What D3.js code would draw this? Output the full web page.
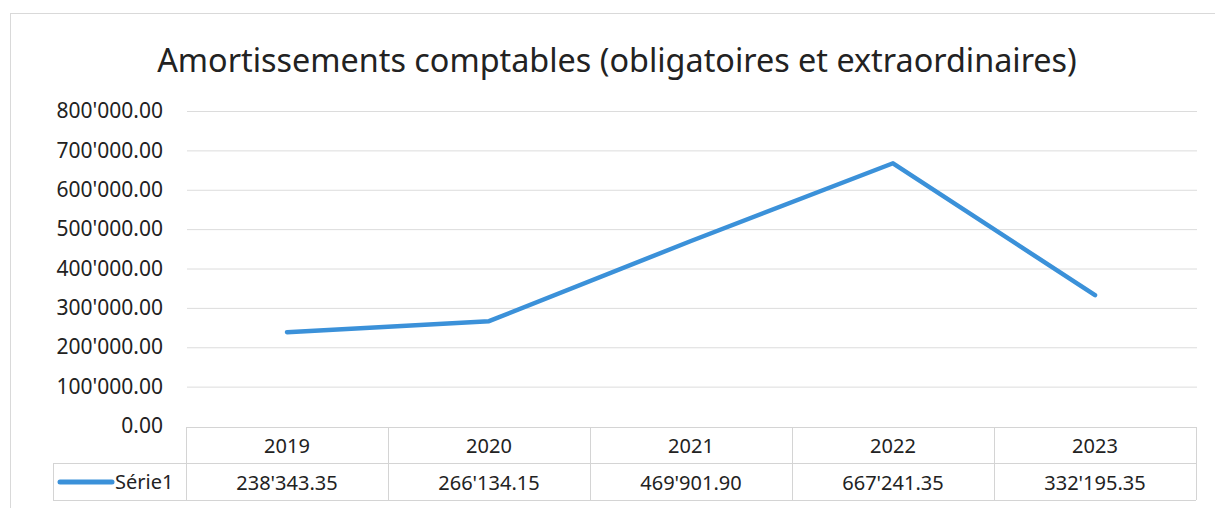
<!DOCTYPE html>
<html>
<head>
<meta charset="utf-8">
<script src="https://cdn.jsdelivr.net/npm/d3@7"></script>
<style>
  body { margin: 0; background: #fff; }
  svg { font-family: "Noto Sans", sans-serif; }
</style>
</head>
<body>
<div id="chart"></div>
<script>
var years = ["2019", "2020", "2021", "2022", "2023"];
var values = [238343.35, 266134.15, 469901.90, 667241.35, 332195.35];
var seriesName = "Série1";
var yTicks = [0, 100000, 200000, 300000, 400000, 500000, 600000, 700000, 800000];
var title = "Amortissements comptables (obligatoires et extraordinaires)";

var width = 1215, height = 508;
var lineColor = "#3b91d9";
var gridColor = "#dcdcdc";

var locale = d3.formatLocale({ decimal: ".", thousands: "'", grouping: [3], currency: ["", ""] });
var fmt = locale.format(",.2f");

var svg = d3.select("#chart").append("svg")
    .attr("width", width)
    .attr("height", height);

// chart frame
svg.append("rect")
    .attr("x", 10.5).attr("y", 13.5)
    .attr("width", 1210).attr("height", 500)
    .attr("fill", "#fff")
    .attr("stroke", "#d9d9d9");

// title, fitted to the reference width
var t = svg.append("text")
    .attr("x", 617).attr("y", 72)
    .attr("text-anchor", "middle")
    .attr("fill", "#222")
    .style("font-size", "32px")
    .text(title);
var tw = t.node().getComputedTextLength();
t.style("font-size", (32 * 920 / tw) + "px");

var x = d3.scaleBand().domain(years).range([186, 1196]);
var y = d3.scaleLinear().domain([0, 800000]).range([426, 111]);

var yAxis = d3.axisLeft(y)
    .tickValues(yTicks)
    .tickSize(-(1197 - 187))
    .tickPadding(24)
    .tickFormat(fmt);

var gy = svg.append("g")
    .attr("transform", "translate(187,0)")
    .call(yAxis);
gy.select(".domain").remove();
gy.selectAll(".tick line").attr("stroke", gridColor);
gy.selectAll(".tick").filter(function (d) { return d === 0; }).select("line").remove();
gy.selectAll(".tick text")
    .attr("fill", "#222")
    .style("font-size", "21px")
    .style("font-family", "'Noto Sans', sans-serif");

// line
var line = d3.line()
    .x(function (d, i) { return x(years[i]) + x.bandwidth() / 2; })
    .y(function (d) { return y(d); });

svg.append("path")
    .datum(values)
    .attr("d", line)
    .attr("fill", "none")
    .attr("stroke", lineColor)
    .attr("stroke-width", 4.5)
    .attr("stroke-linejoin", "round")
    .attr("stroke-linecap", "round");

// data table
var rowTop = 427, rowMid = 463, rowBot = 500;
var tableColor = "#d4d4d4";
var tbl = svg.append("g");

tbl.append("line")
    .attr("x1", x.range()[0]).attr("x2", x.range()[1])
    .attr("y1", rowTop + 0.5).attr("y2", rowTop + 0.5)
    .attr("stroke", tableColor);
tbl.append("line")
    .attr("x1", 53).attr("x2", x.range()[1])
    .attr("y1", rowMid + 0.5).attr("y2", rowMid + 0.5)
    .attr("stroke", tableColor);
tbl.append("line")
    .attr("x1", 53).attr("x2", x.range()[1])
    .attr("y1", rowBot + 0.5).attr("y2", rowBot + 0.5)
    .attr("stroke", tableColor);
tbl.append("line")
    .attr("x1", 53.5).attr("x2", 53.5)
    .attr("y1", rowMid).attr("y2", rowBot)
    .attr("stroke", tableColor);

var bounds = years.map(function (d) { return x(d); }).concat([x.range()[1]]);
tbl.selectAll("line.col")
    .data(bounds)
    .enter().append("line")
    .attr("class", "col")
    .attr("x1", function (d) { return Math.round(d) + 0.5; })
    .attr("x2", function (d) { return Math.round(d) + 0.5; })
    .attr("y1", rowTop).attr("y2", rowBot)
    .attr("stroke", tableColor);

tbl.selectAll("text.year")
    .data(years)
    .enter().append("text")
    .attr("class", "year")
    .attr("x", function (d) { return x(d) + x.bandwidth() / 2; })
    .attr("y", (rowTop + rowMid) / 2 + 1)
    .attr("dy", "0.35em")
    .attr("text-anchor", "middle")
    .attr("fill", "#222")
    .style("font-size", "20px")
    .text(function (d) { return d; });

tbl.selectAll("text.val")
    .data(values)
    .enter().append("text")
    .attr("class", "val")
    .attr("x", function (d, i) { return x(years[i]) + x.bandwidth() / 2; })
    .attr("y", (rowMid + rowBot) / 2 + 1)
    .attr("dy", "0.35em")
    .attr("text-anchor", "middle")
    .attr("fill", "#222")
    .style("font-size", "20px")
    .text(function (d) { return fmt(d); });

// legend key in the table
tbl.append("line")
    .attr("x1", 60).attr("x2", 112)
    .attr("y1", 482).attr("y2", 482)
    .attr("stroke", lineColor)
    .attr("stroke-width", 5)
    .attr("stroke-linecap", "round");
tbl.append("text")
    .attr("x", 115).attr("y", 482)
    .attr("dy", "0.35em")
    .attr("fill", "#222")
    .style("font-size", "20px")
    .text(seriesName);
</script>
</body>
</html>
